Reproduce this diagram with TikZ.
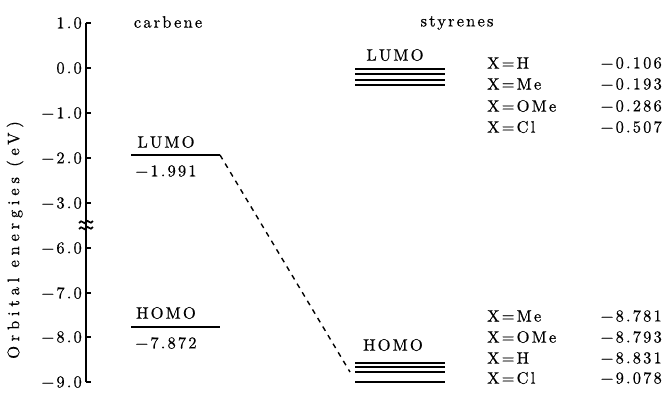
\documentclass[tikz,border=0pt]{standalone}
\usepackage{fontspec}
\newfontfamily\reffont{lmroman10-regular.otf}[LetterSpace=13,FakeBold=0.6]
\newfontfamily\labfont{lmroman10-regular.otf}[LetterSpace=29,FakeBold=0.6]
\begin{document}
\begin{tikzpicture}[x=1pt,y=-1pt,
  txt/.style={inner sep=0pt,font=\reffont\fontsize{16.5}{19}\selectfont},
  ylabtxt/.style={inner sep=0pt,font=\labfont\fontsize{16.5}{19}\selectfont},
  lvl/.style={line width=1.6pt},
  axisline/.style={line width=1.6pt},
  tick/.style={line width=1.2pt},
  conn/.style={line width=1.4pt,dash pattern=on 5pt off 5pt}]
\useasboundingbox (0,0) rectangle (665,400);
% axis
\coordinate (atop) at (86,23);
\coordinate (abot) at (86,382);
\draw[axisline] (atop) -- (abot);
\foreach \y/\l in {23/1.0,68/0.0,113/−1.0,158/−2.0,203/−3.0,248/−6.0,293/−7.0,337/−8.0,382/−9.0}{
  \draw[tick] (86,\y) -- (91,\y);
  \node[txt,anchor=east] at (82,\y) {\l};
}
% break mark
\draw[line width=1.7pt] (79,223) .. controls (82,218) and (84,226) .. (86,222) .. controls (88,218) and (90,226) .. (93,221);
\draw[line width=1.7pt] (79,229) .. controls (82,224) and (84,232) .. (86,228) .. controls (88,224) and (90,232) .. (93,227);
\node[ylabtxt,rotate=90,anchor=west] (ylab) at (15,359) {Orbital energies (eV)};
% headers
\node[txt] (carb) at (168,22) {carbene};
\node[txt] (styr) at (457,23) {styrenes};
% carbene levels
\coordinate (cLl) at (131,155); \coordinate (cLr) at (220,155);
\draw[lvl] (cLl) -- (cLr);
\node[txt] (cLlab) at (166,142) {LUMO};
\node[txt] (cLval) at (166,171) {−1.991};
\coordinate (cHl) at (131,327); \coordinate (cHr) at (220,327);
\draw[lvl] (cHl) -- (cHr);
\node[txt] (cHlab) at (166,313) {HOMO};
\node[txt] (cHval) at (166,343) {−7.872};
% styrene LUMO
\foreach \y in {69,74,80,85}{ \draw[lvl] (355,\y) -- (445,\y); }
\node[txt] (sLlab) at (395,55) {LUMO};
% styrene HOMO
\foreach \y in {363,367,372,382}{ \draw[lvl] (355,\y) -- (445,\y); }
\coordinate (sHend) at (350,372);
\node[txt] (sHlab) at (393,345) {HOMO};
% connector
\draw[conn] (cLr) -- (sHend);
% substituent tables
\foreach \y/\a/\v in {63/H/0.106,84/Me/0.193,106/OMe/0.286,127/Cl/0.507}{
  \node[txt,anchor=west] at (487,\y) {X{=}\a};
  \node[txt,anchor=east] at (662,\y) {−\v};
}
\foreach \y/\a/\v in {316/Me/8.781,337/OMe/8.793,358/H/8.831,378/Cl/9.078}{
  \node[txt,anchor=west] at (487,\y) {X{=}\a};
  \node[txt,anchor=east] at (662,\y) {−\v};
}
\end{tikzpicture}
\end{document}
